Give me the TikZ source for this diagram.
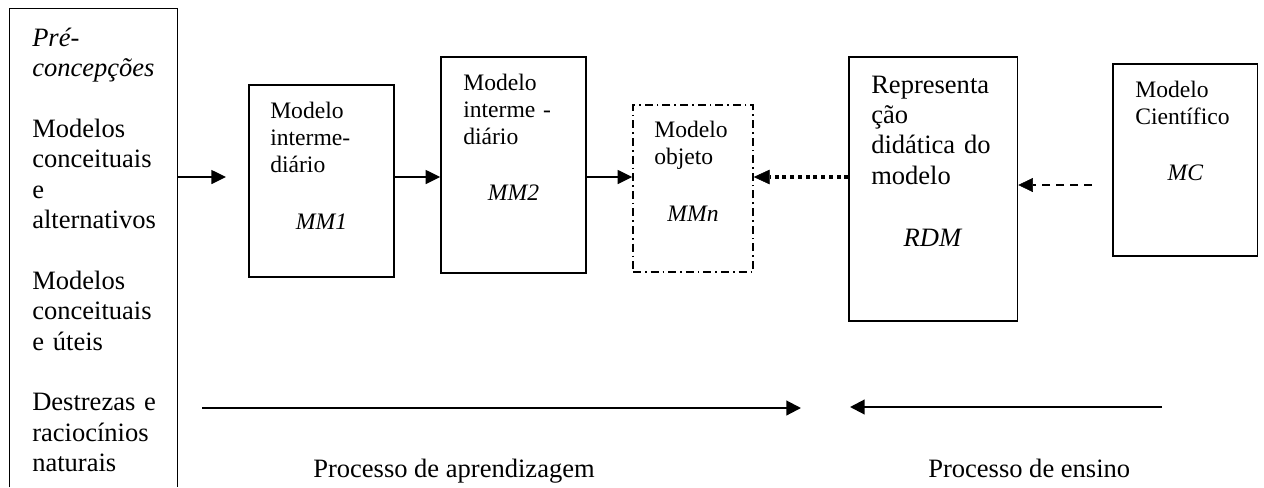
\documentclass[tikz,border=0pt]{standalone}
\usepackage{fontspec}
\setmainfont{Liberation Serif}
\usetikzlibrary{arrows.meta,fit}
\begin{document}
\begin{tikzpicture}[x=0.75pt,y=-0.75pt,
  big/.style={font=\fontsize{19.9pt}{22.8pt}\selectfont},
  small/.style={font=\fontsize{17.7pt}{20.6pt}\selectfont},
  frame/.style={draw, line width=1.1pt, inner sep=0pt},
  txt/.style={anchor=base west, inner sep=0pt, align=left},
  lab/.style={anchor=base, inner sep=0pt},
  arr/.style={line width=1.1pt, -{Triangle[length=11pt,width=10.5pt]}},
  longarr/.style={line width=1.6pt, -{Triangle[length=11pt,width=11pt]}},
  dotarr/.style={line width=3pt, dash pattern=on 3pt off 2.8pt,
    -{Triangle[length=12pt,width=11pt,line width=0.4pt]}},
  dasharr/.style={line width=1.3pt, dash pattern=on 6pt off 4.5pt,
    -{Triangle[length=11pt,width=10.5pt,line width=0.4pt]}},
  dashdot/.style={dash pattern=on 6pt off 3pt on 1.2pt off 3pt}
]
\useasboundingbox (0,0) rectangle (1264,487);

% left column: open box with the starting conceptions
\node[inner sep=0pt, fit={(10,9) (177,487)}] (pre) {};
\draw[line width=1.1pt] (pre.south west) -- (pre.north west) -- (pre.north east) -- (pre.south east);
\node[txt, big, text width=105pt] (pretext) at (32,46)
  {\textit{Pré-}\\\textit{concepções}\\[22.8pt]Modelos\\conceituais\\e\\alternativos\\[22.8pt]Modelos\\conceituais\\e úteis\\[22.8pt]Destrezas e\\raciocínios\\naturais};

% model boxes
\node[frame, fit={(249,85) (394,277)}] (mm1) {};
\node[txt, small, text width=100pt] (mm1text) at (270,118) {Modelo\\interme-\\diário};
\node[lab, small] (mm1lab) at (321.5,229) {\textit{MM1}};

\node[frame, fit={(441,57) (586,273)}] (mm2) {};
\node[txt, small, text width=100pt] (mm2text) at (463,90) {Modelo\\interme -\\diário};
\node[lab, small] (mm2lab) at (513.5,200) {\textit{MM2}};

\node[frame, dashdot, fit={(633,105) (753,272)}] (mmn) {};
\node[txt, small, text width=80pt] (mmntext) at (654,137) {Modelo\\objeto};
\node[lab, small] (mmnlab) at (693,221) {\textit{MMn}};

\node[frame, fit={(849,57) (1017.5,321)}] (rdm) {};
\node[txt, big, text width=115pt] (rdmtext) at (871,93) {Representa\\ção\\didática do\\modelo};
\node[lab, big] (rdmlab) at (933,246) {\textit{RDM}};

\node[frame, fit={(1113,64) (1257.5,256)}] (mc) {};
\node[txt, small, text width=100pt] (mctext) at (1135,97) {Modelo\\Científico};
\node[lab, small] (mclab) at (1185.5,180) {\textit{MC}};

% connectors
\coordinate (row) at (0,177);
\coordinate (a1) at (226,177);
\coordinate (mcend) at (1092,185);
\draw[arr] (pre.north east |- row) -- (a1);
\draw[arr] (mm1.east |- row) -- (mm2.west |- row);
\draw[arr] (mm2.east |- row) -- (mmn.west |- row);
\draw[dotarr] (rdm.west |- row) -- (mmn.east |- row);
\draw[dasharr] (mcend) -- (rdm.east |- mcend);

% process arrows and captions
\coordinate (l1) at (202,408);
\coordinate (l2) at (801,408);
\coordinate (r1) at (1162,407);
\coordinate (r2) at (850,407);
\draw[longarr] (l1) -- (l2);
\draw[longarr] (r1) -- (r2);
\node[anchor=base west, inner sep=0pt, big] (learn) at (313,477) {Processo de aprendizagem};
\node[anchor=base west, inner sep=0pt, big] (teach) at (928,477) {Processo de ensino};
\end{tikzpicture}
\end{document}
